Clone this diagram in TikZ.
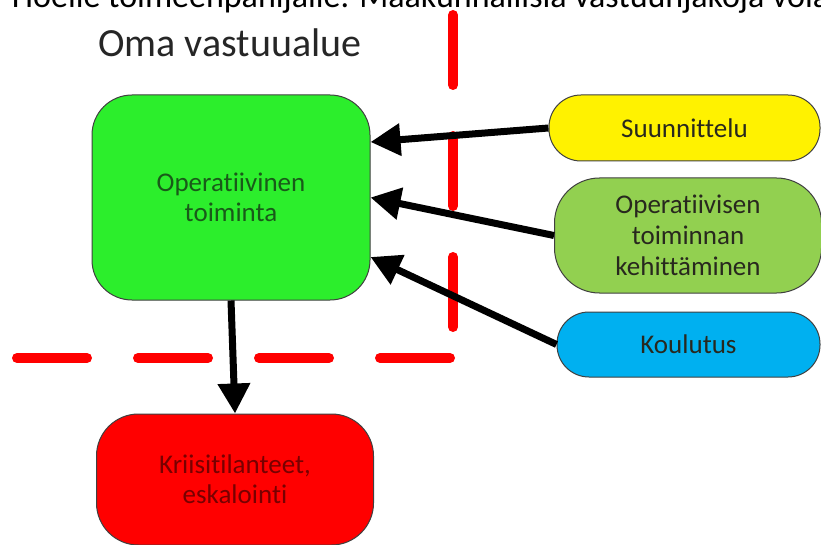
\documentclass[tikz,border=0pt]{standalone}
\usepackage{fontspec}
\setmainfont{Carlito}[Ligatures={NoCommon}]
\usetikzlibrary{arrows.meta,calc}
\definecolor{boxgreen}{RGB}{44,238,44}
\definecolor{olivebox}{RGB}{146,208,80}
\definecolor{skyblue}{RGB}{0,176,240}
\definecolor{dashred}{RGB}{255,0,0}
\definecolor{txtgreen}{RGB}{25,90,25}
\definecolor{txtred}{RGB}{120,0,0}
\definecolor{txtdark}{RGB}{40,40,30}
\begin{document}
\begin{tikzpicture}[x=1pt,y=-1pt,
  box/.style={draw=black!75, line width=1pt, align=center, inner sep=0pt,
    font=\fontsize{27}{30}\selectfont},
  conn/.style={line width=7pt, -{Triangle[length=30pt,width=31pt]}},
  border/.style={dashred, line width=10pt, line cap=round, dash pattern=on 70pt off 51pt}]
\useasboundingbox (0,0) rectangle (821,545);
\fill[white] (0,0) rectangle (821,545);
% cut-off top line
\node[anchor=north west, inner sep=0pt, outer sep=0pt, font=\fontsize{34}{40}\selectfont] (toptext) at (12,-20) {\strut Hoelle toimeenpanijalle. Maakunnallisia vastuunjakoja vola};
% title
\node[anchor=base west, inner sep=0pt, font=\fontsize{40}{48}\selectfont, text=black!85] (title) at (98,57) {Oma vastuualue};
% red dashed borders
\draw[border] (453,15) -- (453,327);
\draw[border] (17,358) -- (450,358);
% boxes
\node[box, fill=boxgreen, text=txtgreen, minimum width=278pt, minimum height=205pt, rounded corners=40pt] (op) at (231,197.5) {Operatiivinen\\toiminta};
\node[box, fill=red, text=txtred, minimum width=277pt, minimum height=131pt, rounded corners=42pt] (kr) at (235,479.5) {Kriisitilanteet,\\eskalointi};
\node[box, fill=yellow, text=txtdark, minimum width=271pt, minimum height=66pt, rounded corners=32pt] (su) at (684.5,128) {Suunnittelu};
\node[box, fill=olivebox, text=txtdark, minimum width=267pt, minimum height=115pt, rounded corners=45pt, font=\fontsize{27}{31}\selectfont] (ke) at (688,235.5) {Operatiivisen\\toiminnan\\kehittäminen};
\node[box, fill=skyblue, text=txtdark, minimum width=263pt, minimum height=65pt, rounded corners=32pt] (ko) at (688.5,344.5) {Koulutus};
% connectors
\draw[conn] (su.west) -- ($(op.east)+(0,-55.5)$);
\draw[conn] (ke.west) -- (op.east);
\draw[conn] (ko.west) -- ($(op.east)+(0,59.5)$);
\draw[conn] (op.south) -- (kr.north);
\end{tikzpicture}
\end{document}
